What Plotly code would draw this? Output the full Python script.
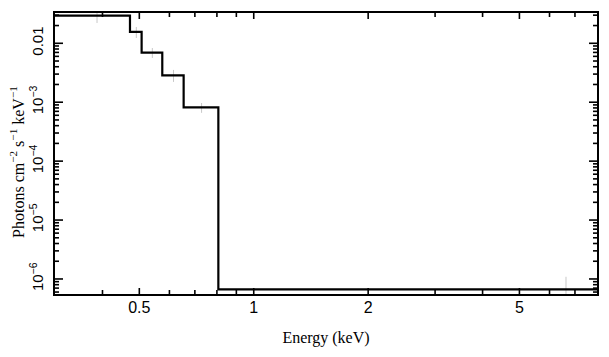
import plotly.graph_objects as go
import numpy as np

# Model step: bin edges (keV) and flux levels (photons cm^-2 s^-1 keV^-1)
bin_edges = [0.30, 0.4725, 0.507, 0.5746, 0.654, 0.807, 8.0]
model_flux = [0.0294, 0.01556, 0.00692, 0.00286, 8.19e-4, 6.68e-7]

# Faint data points with vertical error bars
data_energy = [0.387, 0.491, 0.541, 0.615, 0.729, 6.63]
data_flux = [0.0285, 0.0155, 0.0069, 0.0028, 8.0e-4, 8.0e-7]
data_hi = [0.034, 0.0189, 0.00832, 0.00353, 9.7e-4, 1.09e-6]
data_lo = [0.0221, 0.0123, 0.00564, 0.00221, 6.6e-4, 5.5e-7]

x_tickvals = [0.5, 1, 2, 5]
x_ticktext = ["0.5", "1", "2", "5"]
x_minor = [0.4, 0.6, 0.7, 0.8, 0.9, 3, 4, 6, 7]
y_tickvals = [1e-2, 1e-3, 1e-4, 1e-5, 1e-6]
y_ticktext = ["0.01", "10<sup>−3</sup>", "10<sup>−4</sup>", "10<sup>−5</sup>", "10<sup>−6</sup>"]
y_title = "Photons cm<sup>−2</sup> s<sup>−1</sup> keV<sup>−1</sup>"

x_min, x_max = 0.3, 8.0
y_min_log, y_max_log = -6.255, -1.486
y_minor = [m * 10.0 ** e for e in range(-7, -1) for m in range(2, 10)
           if y_min_log < np.log10(m * 10.0 ** e) < y_max_log]

W, H = 601, 349
M = dict(l=47, r=12, t=5, b=63)
plot_w = W - M["l"] - M["r"]
plot_h = H - M["t"] - M["b"]
x_lo, x_hi = np.log10(x_min), np.log10(x_max)
px_x = (x_hi - x_lo) / plot_w          # log-decades per pixel (x)
px_y = (y_max_log - y_min_log) / plot_h  # log-decades per pixel (y)

step_y = model_flux + [model_flux[-1]]

fig = go.Figure()
fig.add_trace(go.Scatter(
    x=data_energy, y=data_flux, mode="markers",
    marker=dict(size=0.1, color="rgba(0,0,0,0)"),
    error_y=dict(type="data", symmetric=False,
                 array=[h - f for h, f in zip(data_hi, data_flux)],
                 arrayminus=[f - l for f, l in zip(data_flux, data_lo)],
                 color="#c8c8c8", thickness=1, width=0),
    hoverinfo="skip", showlegend=False,
))
fig.add_trace(go.Scatter(
    x=bin_edges, y=step_y, mode="lines", line_shape="hv",
    line=dict(color="black", width=2.2), showlegend=False,
))

# inside tick marks on all four sides (mirrored), built from the axis ranges
tx, ty = [], []
for v, ln in [(v, 6) for v in x_tickvals] + [(v, 4) for v in x_minor]:
    tx += [v, v, None, v, v, None]
    ty += [10 ** y_min_log, 10 ** (y_min_log + ln * px_y), None,
           10 ** y_max_log, 10 ** (y_max_log - ln * px_y), None]
for v, ln in [(v, 8) for v in y_tickvals] + [(v, 4) for v in y_minor]:
    ty += [v, v, None, v, v, None]
    tx += [10 ** x_lo, 10 ** (x_lo + ln * px_x), None,
           10 ** x_hi, 10 ** (x_hi - ln * px_x), None]
fig.add_trace(go.Scatter(
    x=tx, y=ty, mode="lines", line=dict(color="black", width=1.6),
    hoverinfo="skip", showlegend=False, connectgaps=False,
))

fig.update_xaxes(
    type="log", range=[x_lo, x_hi],
    showgrid=False, zeroline=False, showline=True, linecolor="black",
    linewidth=2, mirror=True, ticks="", automargin=False,
    tickmode="array", tickvals=x_tickvals, ticktext=x_ticktext,
    ticklabelstandoff=-2,
    tickfont=dict(family="Liberation Sans, Arial", size=16, color="black"),
    title=dict(text="Energy (keV)", standoff=17,
               font=dict(family="Liberation Serif, Times New Roman", size=16, color="black")),
)
fig.update_yaxes(
    type="log", range=[y_min_log, y_max_log],
    showgrid=False, zeroline=False, showline=True, linecolor="black",
    linewidth=2, mirror=True, ticks="", automargin=False,
    tickmode="array", tickvals=y_tickvals, ticktext=y_ticktext,
    tickangle=-90, ticklabelstandoff=4,
    tickfont=dict(family="Liberation Sans, Arial", size=15, color="black"),
)

fig.add_annotation(
    text=y_title, xref="paper", yref="paper", x=0, y=0.47, xshift=-38,
    xanchor="center", yanchor="middle", textangle=-90, showarrow=False,
    font=dict(family="Liberation Serif, Times New Roman", size=16, color="black"),
)

fig.update_layout(
    width=W, height=H, margin=M,
    plot_bgcolor="white", paper_bgcolor="white",
)

fig.write_html("out.html")
